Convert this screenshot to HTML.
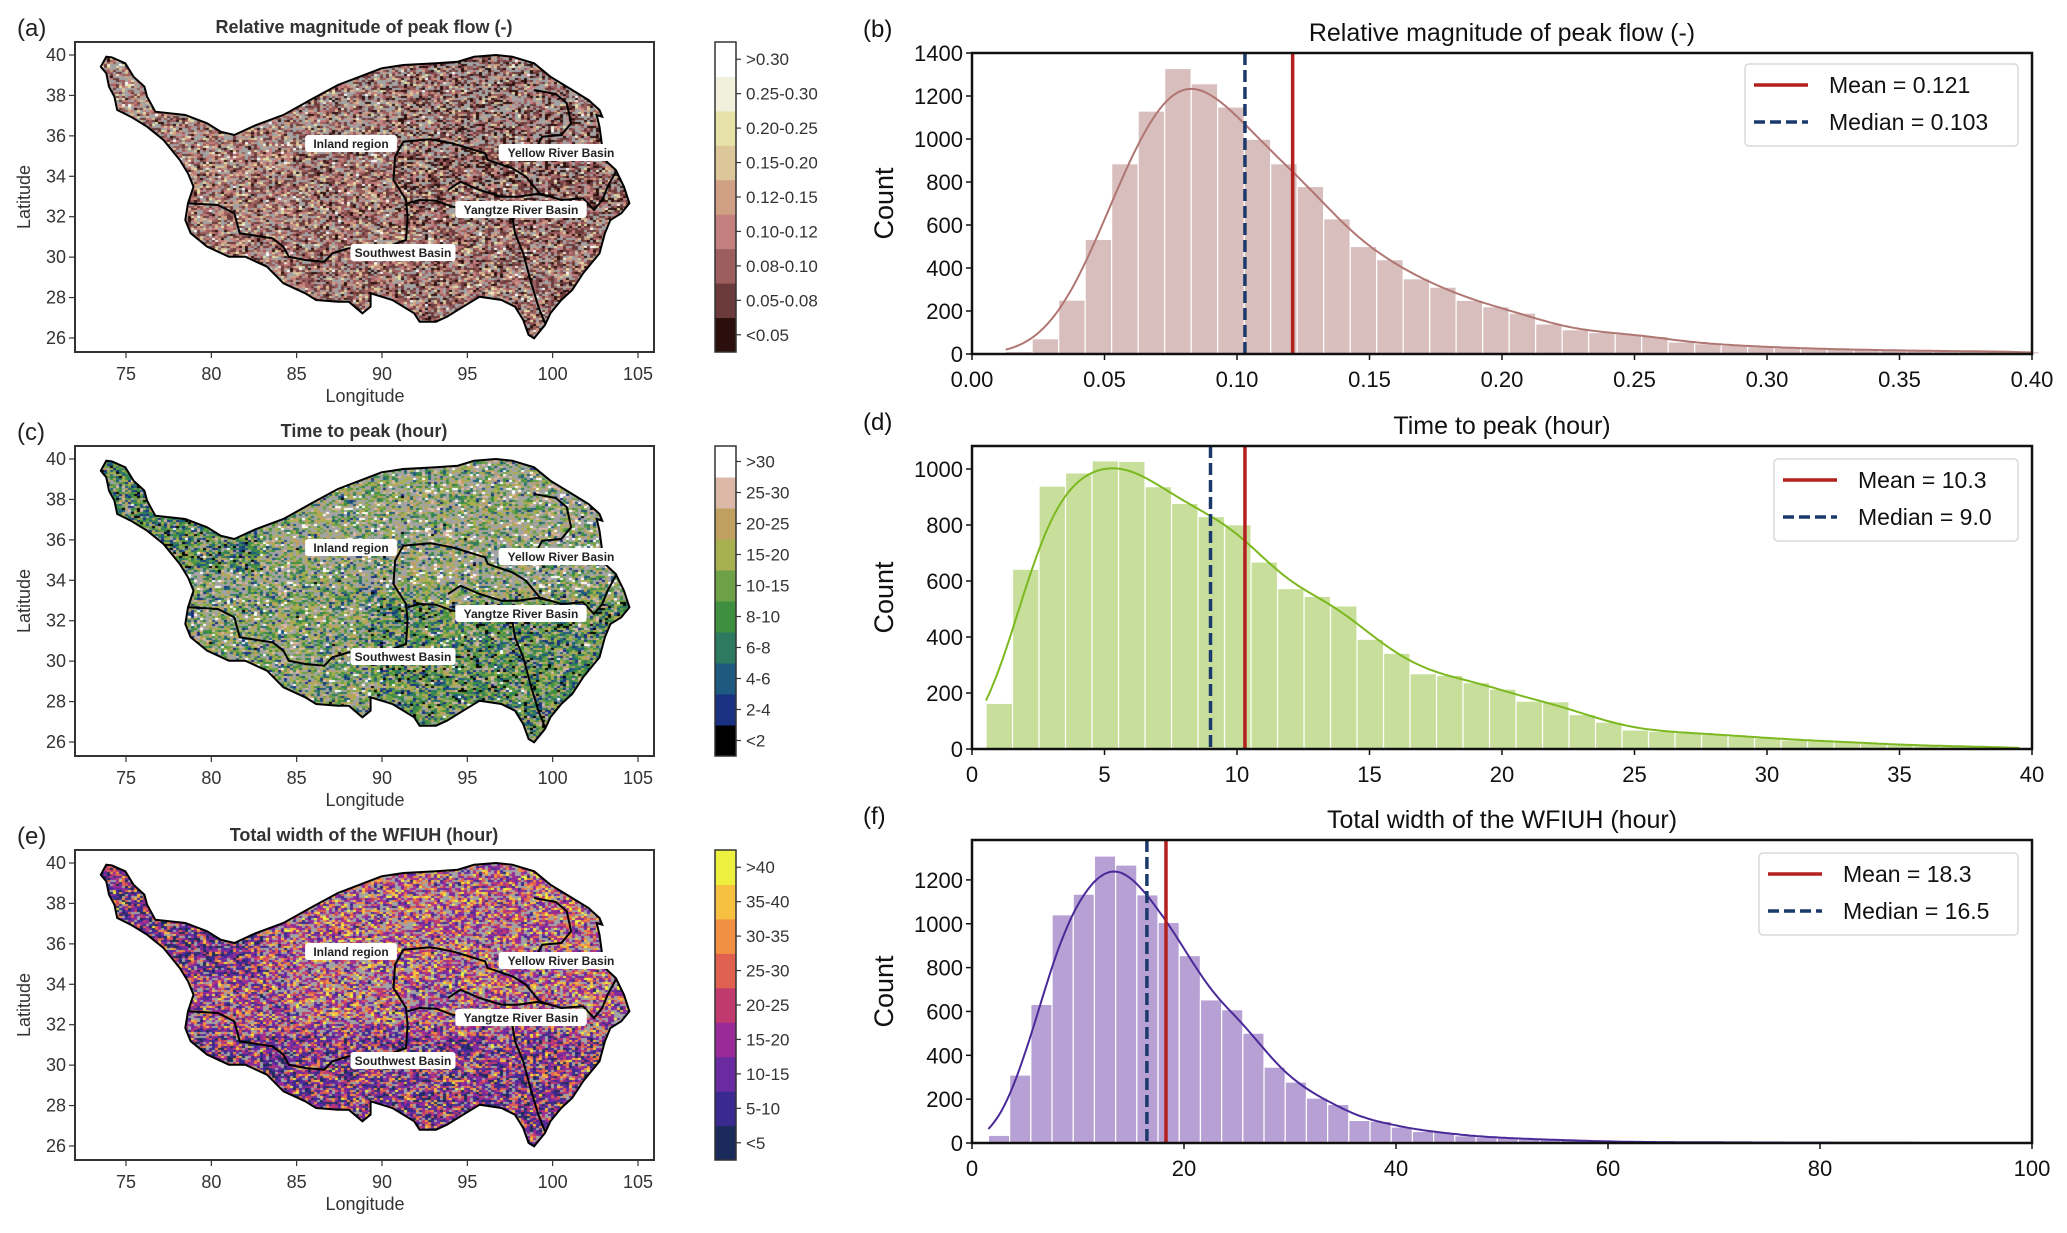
<!DOCTYPE html>
<html><head><meta charset="utf-8">
<style>
html,body{margin:0;padding:0;background:#fff;}
#wrap{position:relative;width:2067px;height:1233px;overflow:hidden;font-family:"Liberation Sans",sans-serif;}
canvas,svg{position:absolute;left:0;top:0;}
</style></head>
<body>
<div id="wrap">
<canvas id="tex" width="2067" height="1233"></canvas>
<svg id="fig" width="2067" height="1233" xmlns="http://www.w3.org/2000/svg"></svg>
</div>
<script>
// ---------- Histogram data ----------
const bCounts=[12,71,251,533,885,1130,1328,1257,1149,999,885,779,629,500,439,350,311,250,220,190,140,113,100,93,82,56,48,40,34,29,25,22,19,17,15,14,12,12,11];
const bBinStart=0.0127, bBinWidth=0.01;
const bMean=0.121, bMedian=0.103;
const bXTicks=[0,0.05,0.10,0.15,0.20,0.25,0.30,0.35,0.40];
const bXTickLabels=["0.00","0.05","0.10","0.15","0.20","0.25","0.30","0.35","0.40"];
const bYTicks=[0,200,400,600,800,1000,1200,1400];

const dCounts=[163,642,939,986,1029,1027,937,877,830,801,668,573,545,511,392,342,269,263,237,214,171,169,123,96,68,63,58,52,46,40,32,29,25,20,15,12,10,8,7];
const dBinStart=0.53, dBinWidth=1.0;
const dMean=10.3, dMedian=9.0;
const dXTicks=[0,5,10,15,20,25,30,35,40];
const dXTickLabels=["0","5","10","15","20","25","30","35","40"];
const dYTicks=[0,200,400,600,800,1000];

const fCounts=[35,310,632,1041,1135,1309,1268,1132,1006,855,653,608,501,346,278,205,176,103,99,73,53,49,33,27,23,18,15,12,9,6,5,4,4,3,3,3,2,2,2,2,1,1,1,1];
const fBinStart=1.55, fBinWidth=2.0;
const fMean=18.3, fMedian=16.5;
const fXTicks=[0,20,40,60,80,100];
const fXTickLabels=["0","20","40","60","80","100"];
const fYTicks=[0,200,400,600,800,1000,1200];

// ---------- Map legend data ----------
const aClasses=["<0.05","0.05-0.08","0.08-0.10","0.10-0.12","0.12-0.15","0.15-0.20","0.20-0.25","0.25-0.30",">0.30"];
const cClasses=["<2","2-4","4-6","6-8","8-10","10-15","15-20","20-25","25-30",">30"];
const eClasses=["<5","5-10","10-15","15-20","20-25","25-30","30-35","35-40",">40"];
const lonTicks=[75,80,85,90,95,100,105];
const latTicks=[26,28,30,32,34,36,38,40];

const NS="http://www.w3.org/2000/svg";
const svg=document.getElementById('fig');
function el(tag,attrs,parent,text){const e=document.createElementNS(NS,tag);for(const k in attrs)e.setAttribute(k,attrs[k]);if(text!==undefined)e.textContent=text;(parent||svg).appendChild(e);return e;}

// ---------- Histograms ----------
function drawHist(cfg){
  const g=el('g',{});
  
  
  const L=972,R=2032,T=cfg.top,B=cfg.bottom;
  const sx=v=>L+(v-cfg.xmin)/(cfg.xmax-cfg.xmin)*(R-L);
  const sy=v=>B-(v/cfg.ymax)*(B-T);
  cfg.counts.forEach((c,i)=>{
    const x0=sx(cfg.start+i*cfg.width), x1=sx(cfg.start+(i+1)*cfg.width);
    const r=el('rect',{x:x0,y:sy(c),width:Math.max(0,x1-x0),height:B-sy(c),fill:cfg.barColor,stroke:'#fff','stroke-width':1.2},g);
    
    
  });
  const centers=cfg.counts.map((c,i)=>cfg.start+(i+0.5)*cfg.width);
  const bw=cfg.width*cfg.bwBins;
  const xs0=cfg.start, xs1=Math.min(cfg.xmax,cfg.start+cfg.counts.length*cfg.width);
  let d='';
  for(let k=0;k<=300;k++){
    const x=xs0+(xs1-xs0)*k/300;
    let s=0;
    centers.forEach((cx,i)=>{const z=(x-cx)/bw;s+=cfg.counts[i]*Math.exp(-0.5*z*z)/(Math.sqrt(2*Math.PI)*cfg.bwBins);});
    d+=(k?'L':'M')+sx(x).toFixed(1)+','+sy(s).toFixed(1);
  }
  const kde=el('path',{d:d,fill:'none',stroke:cfg.lineColor,'stroke-width':2},g);
  
  
  const ml=el('line',{x1:sx(cfg.median),x2:sx(cfg.median),y1:T,y2:B,stroke:'#1b3a6b','stroke-width':3.5,'stroke-dasharray':'12,5'},g);
  
  
  const mn=el('line',{x1:sx(cfg.mean),x2:sx(cfg.mean),y1:T,y2:B,stroke:'#b3211f','stroke-width':3.5},g);
  
  
  const fr=el('rect',{x:L,y:T,width:R-L,height:B-T,fill:'none',stroke:'#111','stroke-width':2.5},g);
  
  
  cfg.xticks.forEach((v,i)=>{
    el('line',{x1:sx(v),x2:sx(v),y1:B,y2:B+6,stroke:'#111','stroke-width':1.5},g);
    const t=el('text',{x:sx(v),y:B+33,'font-size':22,'text-anchor':'middle',fill:'#111'},g,cfg.xlabels[i]);
    
    
  });
  cfg.yticks.forEach(v=>{
    el('line',{x1:L-6,x2:L,y1:sy(v),y2:sy(v),stroke:'#111','stroke-width':1.5},g);
    const t=el('text',{x:L-9,y:sy(v)+8,'font-size':22,'text-anchor':'end',fill:'#111'},g,String(v));
    
    
  });
  const yl=el('text',{x:0,y:0,'font-size':27,'text-anchor':'middle',fill:'#111',transform:`translate(893,${(T+B)/2}) rotate(-90)`},g,'Count');
  
  
  const ti=el('text',{x:1502,y:T-12,'font-size':25,'text-anchor':'middle',fill:'#111'},g,cfg.title);
  
  
  const pl=el('text',{x:863,y:T-16,'font-size':24,fill:'#111'},g,cfg.panel);
  
  
  const lg=el('g',{},g);
  
  
  const Lx=cfg.legX, Ly=cfg.legY;
  el('rect',{x:Lx,y:Ly,width:2018-Lx,height:82,rx:4,fill:'#fff',stroke:'#d8d8d8','stroke-width':1.5},lg);
  el('line',{x1:Lx+9,x2:Lx+63,y1:Ly+21,y2:Ly+21,stroke:'#b3211f','stroke-width':3.5},lg);
  const t1=el('text',{x:Lx+84,y:Ly+29,'font-size':23,fill:'#111'},lg,'Mean = '+cfg.meanLabel);
  
  
  el('line',{x1:Lx+9,x2:Lx+63,y1:Ly+58,y2:Ly+58,stroke:'#1b3a6b','stroke-width':3.5,'stroke-dasharray':'11,5'},lg);
  const t2=el('text',{x:Lx+84,y:Ly+66,'font-size':23,fill:'#111'},lg,'Median = '+cfg.medianLabel);
  
  
}
drawHist({name:'histogram-b',panel:'(b)',title:'Relative magnitude of peak flow (-)',top:53,bottom:354,xmin:0,xmax:0.4,ymax:1400,counts:bCounts,start:bBinStart,width:bBinWidth,mean:bMean,median:bMedian,meanLabel:'0.121',medianLabel:'0.103',xticks:bXTicks,xlabels:bXTickLabels,yticks:bYTicks,barColor:'#d9bebe',lineColor:'#b07672',bwBins:1.05,legX:1745,legY:64});
drawHist({name:'histogram-d',panel:'(d)',title:'Time to peak (hour)',top:446,bottom:749,xmin:0,xmax:40,ymax:1082,counts:dCounts,start:dBinStart,width:dBinWidth,mean:dMean,median:dMedian,meanLabel:'10.3',medianLabel:'9.0',xticks:dXTicks,xlabels:dXTickLabels,yticks:dYTicks,barColor:'#c8df9c',lineColor:'#7cb81f',bwBins:1.1,legX:1774,legY:459});
drawHist({name:'histogram-f',panel:'(f)',title:'Total width of the WFIUH (hour)',top:840,bottom:1143,xmin:0,xmax:100,ymax:1382,counts:fCounts,start:fBinStart,width:fBinWidth,mean:fMean,median:fMedian,meanLabel:'18.3',medianLabel:'16.5',xticks:fXTicks,xlabels:fXTickLabels,yticks:fYTicks,barColor:'#b7a0d4',lineColor:'#4a2a98',bwBins:1.0,legX:1759,legY:853});

// ---------- Maps ----------
const outline=[[195,170],[205,172],[230,190],[245,230],[265,260],[270,290],[285,335],[340,345],[380,370],[405,395],[430,405],[470,375],[520,345],[575,295],[620,255],[660,230],[700,205],[740,195],[800,190],[840,185],[870,170],[910,165],[940,170],[980,190],[1010,230],[1050,270],[1080,300],[1100,330],[1105,350],[1095,345],[1100,380],[1105,440],[1110,480],[1130,510],[1145,560],[1155,610],[1140,640],[1120,660],[1110,700],[1100,760],[1070,820],[1050,870],[1030,900],[1010,940],[1000,975],[980,1015],[970,1005],[960,960],[945,920],[920,900],[880,890],[850,920],[820,950],[800,965],[770,965],[760,940],[720,900],[680,880],[680,920],[665,940],[640,905],[620,905],[580,900],[560,880],[520,850],[490,800],[450,770],[420,770],[380,740],[350,700],[340,660],[345,610],[355,560],[345,520],[330,480],[300,420],[270,380],[240,350],[215,330],[210,290],[200,260],[195,220],[185,200]];
const basinLines=[
 [[345,610],[400,615],[430,640],[440,700],[480,710],[500,715],[520,740],[530,770],[560,780],[595,785],[610,760],[640,745],[680,740],[720,735],[745,720],[748,650],[745,600],[722,540],[725,470],[740,425],[790,418],[830,430],[860,445],[890,460],[895,480],[940,505],[965,530],[990,580],[1030,600],[1070,595],[1090,630],[1105,600],[1115,560],[1130,515]],
 [[980,270],[1020,282],[1040,310],[1048,370],[1030,405],[995,410],[985,440],[985,470]],
 [[822,570],[845,545],[880,570],[920,590],[950,590],[985,582],[1010,590]],
 [[748,610],[770,600],[800,602],[830,620],[880,630],[940,650],[945,700],[960,760],[975,850],[988,920],[1000,970]]
];
const mapPanels=[
 {name:'map-a',panel:'(a)',title:'Relative magnitude of peak flow (-)',off:0,classes:aClasses,colors:['#2a0f0d','#6b3b3b','#9c5e5e','#c47f7f','#cfa084','#dcc69a','#e6e2a8','#f1f0dc','#ffffff'],w:[0.08,0.22,0.2,0.12,0.08,0.06,0.03,0.01,0.01],gray:0.22},
 {name:'map-c',panel:'(c)',title:'Time to peak (hour)',off:404,classes:cClasses,colors:['#000000','#1a3080','#1e5a80','#2e7a60','#3e9040','#6ea048','#a8b050','#c0a060','#dbb8a8','#ffffff'],w:[0.005,0.05,0.06,0.08,0.09,0.14,0.15,0.1,0.06,0.04],gray:0.24},
 {name:'map-e',panel:'(e)',title:'Total width of the WFIUH (hour)',off:808,classes:eClasses,colors:['#1a2a5a','#3a2a90','#6a2aa0','#9a2a98','#c03a70','#e06050','#f09040','#f8c040','#eef040'],w:[0.02,0.12,0.16,0.14,0.09,0.08,0.08,0.05,0.03],gray:0.22}
];
const SX=1/1.835, SY=1/3;
const lonX=lon=>126+(lon-75)*(512/30);
const latY=(lat,off)=>off+55+(40-lat)*(283/14);

// seeded PRNG for decorative texture only
let seed=12345;function rnd(){seed=(seed*16807)%2147483647;return (seed-1)/2147483646;}
const ctx=document.getElementById('tex').getContext('2d');

mapPanels.forEach((mp,pi)=>{
  const off=mp.off;
  const pts=outline.map(p=>[p[0]*SX,p[1]*SY+off]);
  ctx.save();
  ctx.beginPath();pts.forEach((p,i)=>i?ctx.lineTo(p[0],p[1]):ctx.moveTo(p[0],p[1]));ctx.closePath();ctx.clip();
  const wsum=mp.w.reduce((a,b)=>a+b,0)+mp.gray;
  for(let y=off+50;y<off+345;y+=2){
    for(let x=95;x<640;x+=3){
      const fx=(x-100)/540, fy=(y-off-50)/295;
      let bias=0, grayMul=1;
      if(pi===1){ if(fx<0.3&&fy<0.4) {bias=-2.5;grayMul=0.4;} else if(fx>0.5&&fy>0.5) {bias=-1.8;grayMul=0.4;} else if(fy<0.45) {bias=0.8;grayMul=1.5;} }
      if(pi===2){ if(fy>0.6) {bias=-1.5;grayMul=0.6;} else if(fx<0.3&&fy<0.4) {bias=-2;grayMul=0.5;} else if(fy<0.55&&fx>0.35) {bias=1.3;grayMul=1.3;} }
      if(pi===0){ if(fx<0.35) bias=0.8; else if(fx>0.55&&fy<0.6) bias=-0.9; if(fy<0.35) grayMul=1.5; }
      let r=rnd()*wsum, col='#a3a3a3';
      if(r>=mp.gray*grayMul){
        r=rnd()*(wsum-mp.gray);
        for(let k=0;k<mp.w.length;k++){ if(r<mp.w[k]){ let idx=Math.max(0,Math.min(mp.colors.length-1,Math.round(k+bias*rnd()))); col=mp.colors[idx]; break;} r-=mp.w[k]; }
      }
      ctx.fillStyle=col;ctx.fillRect(x,y,3,2);
    }
  }
  ctx.restore();

  const g=el('g',{});
  
  
  const ol=el('path',{d:'M'+pts.map(p=>p[0].toFixed(1)+','+p[1].toFixed(1)).join('L')+'Z',fill:'none',stroke:'#000','stroke-width':2},g);
  
  
  basinLines.forEach(line=>{
    const b=el('path',{d:'M'+line.map(p=>(p[0]*SX).toFixed(1)+','+(p[1]*SY+off).toFixed(1)).join('L'),fill:'none',stroke:'#000','stroke-width':2},g);
    
    
  });
  [['Inland region',351,144],['Yellow River Basin',561,153],['Yangtze River Basin',521,210],['Southwest Basin',403,253]].forEach(l=>{
    const w=l[0].length*6.6+6;
    el('rect',{x:l[1]-w/2,y:l[2]+off-9,width:w,height:17,rx:3,fill:'#fff'},g);
    const t=el('text',{x:l[1],y:l[2]+off+4,'font-size':12,'font-weight':'bold','text-anchor':'middle',fill:'#222'},g,l[0]);
    
    
  });
  el('rect',{x:75,y:off+42,width:579,height:310,fill:'none',stroke:'#333','stroke-width':2},g);
  lonTicks.forEach(v=>{
    el('line',{x1:lonX(v),x2:lonX(v),y1:off+352,y2:off+358,stroke:'#333','stroke-width':1.2},g);
    const t=el('text',{x:lonX(v),y:off+380,'font-size':18,'text-anchor':'middle',fill:'#333'},g,String(v));
    
    
  });
  latTicks.forEach(v=>{
    el('line',{x1:69,x2:75,y1:latY(v,off),y2:latY(v,off),stroke:'#333','stroke-width':1.2},g);
    const t=el('text',{x:66,y:latY(v,off)+6,'font-size':18,'text-anchor':'end',fill:'#333'},g,String(v));
    
    
  });
  const xl=el('text',{x:365,y:off+402,'font-size':18,'text-anchor':'middle',fill:'#333'},g,'Longitude');
  
  
  const yl=el('text',{x:0,y:0,'font-size':18,'text-anchor':'middle',fill:'#333',transform:`translate(30,${off+197}) rotate(-90)`},g,'Latitude');
  
  
  const ti=el('text',{x:364,y:off+33,'font-size':18,'font-weight':'bold','text-anchor':'middle',fill:'#333'},g,mp.title);
  
  
  const pl=el('text',{x:17,y:off+36,'font-size':24,fill:'#222'},g,mp.panel);
  
  
  const cb=el('g',{},g);
  
  
  const n=mp.classes.length, cT=off+42, cB=off+352, h=(cB-cT)/n;
  mp.classes.forEach((c,i)=>{
    const y=cB-(i+1)*h;
    el('rect',{x:715,y:y,width:21,height:h+0.5,fill:mp.colors[i]},cb);
    el('line',{x1:736,x2:741,y1:y+h/2,y2:y+h/2,stroke:'#333','stroke-width':1.2},cb);
    const t=el('text',{x:746,y:y+h/2+6,'font-size':17,fill:'#333'},cb,c);
    
    
  });
  el('rect',{x:715,y:cT,width:21,height:cB-cT,fill:'none',stroke:'#333','stroke-width':1.5},cb);
});
</script>
</body></html>
